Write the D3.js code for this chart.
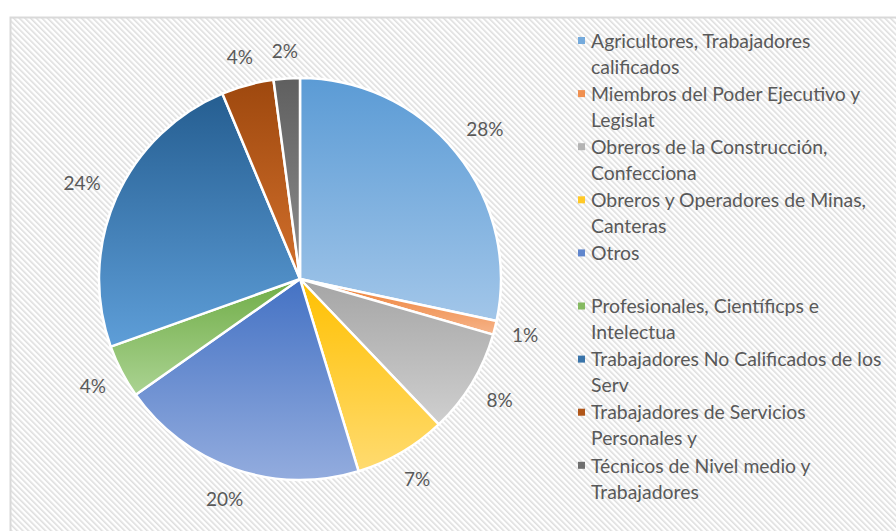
<!DOCTYPE html>
<html>
<head>
<meta charset="utf-8">
<script src="https://cdn.jsdelivr.net/npm/d3@7"></script>
<style>
  body { margin: 0; background: #fff; }
  svg { display: block; font-family: Lato, "Open Sans", sans-serif; }
</style>
</head>
<body>
<div id="chart"></div>
<script>
// data (percent shares, clockwise from 12 o'clock)
const categories = [
  'Agricultores, Trabajadores calificados',
  'Miembros del Poder Ejecutivo y Legislat',
  'Obreros de la Construcción, Confecciona',
  'Obreros y Operadores de Minas, Canteras',
  'Otros',
  'Profesionales, Científicps e Intelectua',
  'Trabajadores No Calificados de los Serv',
  'Trabajadores de Servicios Personales y',
  'Técnicos de Nivel medio y Trabajadores'
];
const values = [28.3, 1.1, 8.4, 7.4, 19.9, 4.3, 24.1, 4.2, 2.1];
// legend text as it wraps in the original
const legendLines = [
  ['Agricultores, Trabajadores', 'calificados'],
  ['Miembros del Poder Ejecutivo y', 'Legislat'],
  ['Obreros de la Construcción,', 'Confecciona'],
  ['Obreros y Operadores de Minas,', 'Canteras'],
  ['Otros'],
  ['Profesionales, Científicps e', 'Intelectua'],
  ['Trabajadores No Calificados de los', 'Serv'],
  ['Trabajadores de Servicios', 'Personales y'],
  ['Técnicos de Nivel medio y', 'Trabajadores']
];
// gradient top / bottom colours per slice
const colorsTop = ['#5b9bd5', '#ed7d31', '#a5a5a5', '#ffc000', '#4472c4', '#70ad47', '#255e91', '#9e480e', '#5f5f5f'];
const colorsBottom = ['#a2c6e9', '#f6b48a', '#cfcfcf', '#ffdb70', '#93acde', '#abd392', '#5e9ed8', '#d2702c', '#8e8e8e'];

const width = 896, height = 531;
const cx = 300, cy = 279, radius = 201;
const labelGap = 217; // distance from centre to nearest edge of a label box

const svg = d3.select('#chart').append('svg')
  .attr('width', width)
  .attr('height', height);

const defs = svg.append('defs');

// diagonal hatch background
const pat = defs.append('pattern')
  .attr('id', 'hatch')
  .attr('patternUnits', 'userSpaceOnUse')
  .attr('width', 4)
  .attr('height', 4)
  .attr('patternTransform', 'rotate(-45)');
pat.append('rect').attr('width', 4).attr('height', 4).attr('fill', '#ffffff');
pat.append('rect').attr('width', 1.6).attr('height', 4).attr('fill', '#dedede');

const grads = defs.selectAll('linearGradient')
  .data(categories)
  .join('linearGradient')
  .attr('id', (d, i) => 'g' + i)
  .attr('x1', 0).attr('y1', 0).attr('x2', 0).attr('y2', 1);
grads.append('stop').attr('offset', '0%').attr('stop-color', (d, i) => colorsTop[i]);
grads.append('stop').attr('offset', '100%').attr('stop-color', (d, i) => colorsBottom[i]);

// chart area frame
svg.append('rect')
  .attr('x', 10.5)
  .attr('y', 17.5)
  .attr('width', width + 20)
  .attr('height', height + 20)
  .attr('fill', 'url(#hatch)')
  .attr('stroke', '#d9d9d9')
  .attr('stroke-width', 2);

const pie = d3.pie().sort(null).value(d => d);
const arcs = pie(values);
const total = d3.sum(values);

const arc = d3.arc().innerRadius(0).outerRadius(radius);

const g = svg.append('g').attr('transform', `translate(${cx},${cy})`);

g.selectAll('.slice')
  .data(arcs)
  .join('path')
  .attr('class', 'slice')
  .attr('d', arc)
  .attr('fill', (d, i) => `url(#g${i})`)
  .attr('stroke', '#ffffff')
  .attr('stroke-width', 2.5)
  .attr('stroke-linejoin', 'round');

// outside-end labels: push each box out so its near edge sits at labelGap
g.selectAll('.label')
  .data(arcs)
  .join('text')
  .attr('class', 'label')
  .attr('text-anchor', 'middle')
  .attr('dy', '0.35em')
  .style('font-size', '19px')
  .style('fill', '#595959')
  .text(d => Math.round(d.data / total * 100) + '%')
  .attr('transform', function(d) {
    const a = (d.startAngle + d.endAngle) / 2;
    const w = this.getComputedTextLength(), h = 20;
    const r = labelGap + Math.abs(Math.sin(a)) * w / 2 + Math.abs(Math.cos(a)) * h / 2;
    return `translate(${r * Math.sin(a)},${-r * Math.cos(a)})`;
  });

// legend
const legend = svg.append('g').attr('transform', 'translate(578,41)');
const rowH = 53.1, lineH = 26;

const items = legend.selectAll('.item')
  .data(categories)
  .join('g')
  .attr('class', 'item')
  .attr('transform', (d, i) => `translate(0,${i * rowH})`);

items.append('rect')
  .attr('x', 0)
  .attr('y', -4)
  .attr('width', 7)
  .attr('height', 7)
  .attr('fill', (d, i) => d3.interpolateRgb(colorsTop[i], colorsBottom[i])(0.35));

items.each(function(d, i) {
  const t = d3.select(this).append('text')
    .attr('x', 13)
    .style('font-size', '19.4px')
    .style('fill', '#595959');
  legendLines[i].forEach((line, j) => {
    t.append('tspan')
      .attr('x', 13)
      .attr('y', j * lineH)
      .attr('dy', '0.35em')
      .text(line);
  });
});
</script>
</body>
</html>
